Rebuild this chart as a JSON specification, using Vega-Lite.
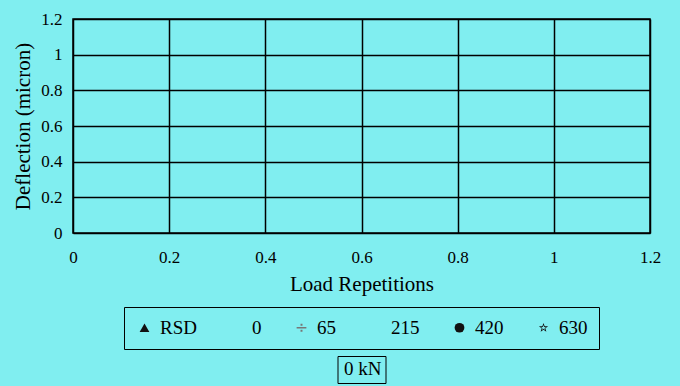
{
  "$schema": "https://vega.github.io/schema/vega-lite/v6.json",
  "autosize": {"type": "none"},
  "width": 577,
  "height": 214,
  "padding": {"left": 73, "top": 19, "right": 30, "bottom": 153},
  "background": "#80eef0",
  "data": {
    "values": [
      {"series": "RSD", "load": "0 kN", "repetitions": null, "deflection": null},
      {"series": "0", "load": "0 kN", "repetitions": null, "deflection": null},
      {"series": "65", "load": "0 kN", "repetitions": null, "deflection": null},
      {"series": "215", "load": "0 kN", "repetitions": null, "deflection": null},
      {"series": "420", "load": "0 kN", "repetitions": null, "deflection": null},
      {"series": "630", "load": "0 kN", "repetitions": null, "deflection": null}
    ]
  },
  "mark": {"type": "point", "filled": true, "opacity": 1},
  "encoding": {
    "x": {
      "field": "repetitions",
      "type": "quantitative",
      "scale": {"domain": [0, 1.2], "nice": false, "zero": false},
      "axis": {
        "values": [0, 0.2, 0.4, 0.6, 0.8, 1, 1.2],
        "format": ".1~f",
        "title": "Load Repetitions",
        "labelPadding": 16,
        "titlePadding": 8,
        "labelFlush": false
      }
    },
    "y": {
      "field": "deflection",
      "type": "quantitative",
      "scale": {"domain": [0, 1.2], "nice": false, "zero": false},
      "axis": {
        "values": [0, 0.2, 0.4, 0.6, 0.8, 1, 1.2],
        "format": ".1~f",
        "title": "Deflection (micron)",
        "labelPadding": 11,
        "titlePadding": 7
      }
    },
    "shape": {
      "field": "series",
      "type": "nominal",
      "scale": {
        "domain": ["RSD", "0", "65", "215", "420", "630"],
        "range": [
          "triangle-up",
          "M0,0Z",
          "M-1,-0.15H1V0.15H-1Z M-0.2,-0.8H0.2V-0.4H-0.2Z M-0.2,0.4H0.2V0.8H-0.2Z",
          "M0,0Z",
          "circle",
          "M0,-1L0.235,-0.324L0.951,-0.309L0.380,0.124L0.588,0.809L0,0.4L-0.588,0.809L-0.380,0.124L-0.951,-0.309L-0.235,-0.324Z M0,-0.55L-0.13,-0.178L-0.523,-0.17L-0.209,0.068L-0.323,0.445L0,0.22L0.323,0.445L0.209,0.068L0.523,-0.17L0.13,-0.178Z"
        ]
      },
      "legend": {
        "title": null,
        "orient": "bottom",
        "direction": "horizontal",
        "strokeColor": "black",
        "padding": 11,
        "columnPadding": 30,
        "symbolSize": 95,
        "symbolOpacity": 1,
        "symbolStrokeWidth": 0,
        "labelOffset": 6,
        "labelFont": "Liberation Serif",
        "labelFontSize": 19,
        "labelColor": "black",
        "offset": 13
      }
    },
    "color": {
      "field": "series",
      "type": "nominal",
      "scale": {
        "domain": ["RSD", "0", "65", "215", "420", "630"],
        "range": ["#111111", "#111111", "#777777", "#111111", "#111111", "#111111"]
      },
      "legend": {
        "title": null,
        "orient": "bottom",
        "direction": "horizontal",
        "strokeColor": "black",
        "padding": 11,
        "columnPadding": 30,
        "symbolSize": 95,
        "symbolOpacity": 1,
        "symbolStrokeWidth": 0,
        "labelOffset": 6,
        "labelFont": "Liberation Serif",
        "labelFontSize": 19,
        "labelColor": "black",
        "offset": 13
      }
    },
    "strokeDash": {
      "field": "load",
      "type": "nominal",
      "scale": {"domain": ["0 kN"]},
      "legend": {
        "title": null,
        "orient": "bottom",
        "strokeColor": "black",
        "padding": 3.5,
        "symbolSize": 0,
        "symbolOpacity": 0,
        "labelOffset": -16,
        "labelFont": "Liberation Serif",
        "labelFontSize": 19,
        "labelColor": "black"
      }
    }
  },
  "config": {
    "view": {"stroke": "black", "strokeWidth": 1.5},
    "axis": {
      "grid": true,
      "gridColor": "black",
      "gridWidth": 1.5,
      "gridOpacity": 1,
      "domain": false,
      "ticks": false,
      "labelFont": "Liberation Serif",
      "labelFontSize": 17,
      "labelColor": "black",
      "labelOverlap": false,
      "titleFont": "Liberation Serif",
      "titleFontSize": 21,
      "titleFontWeight": "normal",
      "titleColor": "black"
    },
    "legend": {
      "layout": {"bottom": {"anchor": "middle", "direction": "vertical", "center": true, "margin": 7}}
    }
  }
}
